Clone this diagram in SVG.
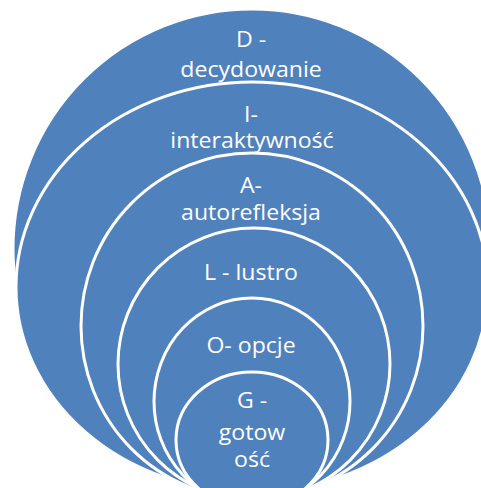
<svg xmlns="http://www.w3.org/2000/svg" width="481" height="488" viewBox="0 0 481 488">
<style>
.ring{fill:#4F81BD;stroke:#FFFFFF;stroke-width:3}
.lbl{font-family:"Open Sans","Liberation Sans",sans-serif;font-size:21px;fill:#FFFFFF;text-anchor:middle}
</style>
<rect x="0" y="0" width="481" height="488" fill="#FFFFFF"/>
<g id="node-D">
<ellipse class="ring" cx="252" cy="249" rx="239" ry="240"/>
<text class="lbl" transform="translate(251,47) scale(1.1,1)">D -</text>
<text class="lbl" transform="translate(251,77) scale(1.1,1)">decydowanie</text>
</g>
<g id="node-I">
<ellipse class="ring" cx="252" cy="287" rx="236" ry="205"/>
<text class="lbl" transform="translate(251,122) scale(1.1,1)">I-</text>
<text class="lbl" transform="translate(252,148) scale(1.1,1)">interaktywność</text>
</g>
<g id="node-A">
<ellipse class="ring" cx="252" cy="326" rx="171" ry="173"/>
<text class="lbl" transform="translate(251,193) scale(1.1,1)">A-</text>
<text class="lbl" transform="translate(251,220) scale(1.1,1)">autorefleksja</text>
</g>
<g id="node-L">
<ellipse class="ring" cx="254" cy="364" rx="136" ry="136"/>
<text class="lbl" transform="translate(251,280) scale(1.1,1)">L - lustro</text>
</g>
<g id="node-O">
<ellipse class="ring" cx="252" cy="401.5" rx="98" ry="103.5"/>
<text class="lbl" transform="translate(251,353) scale(1.1,1)">O- opcje</text>
</g>
<g id="node-G">
<ellipse class="ring" cx="252" cy="440" rx="76" ry="68"/>
<text class="lbl" transform="translate(252,408) scale(1.1,1)">G -</text>
<text class="lbl" transform="translate(252,440) scale(1.1,1)">gotow</text>
<text class="lbl" transform="translate(252,467) scale(1.1,1)">ość</text>
</g>
<g id="connectors"></g>
</svg>
